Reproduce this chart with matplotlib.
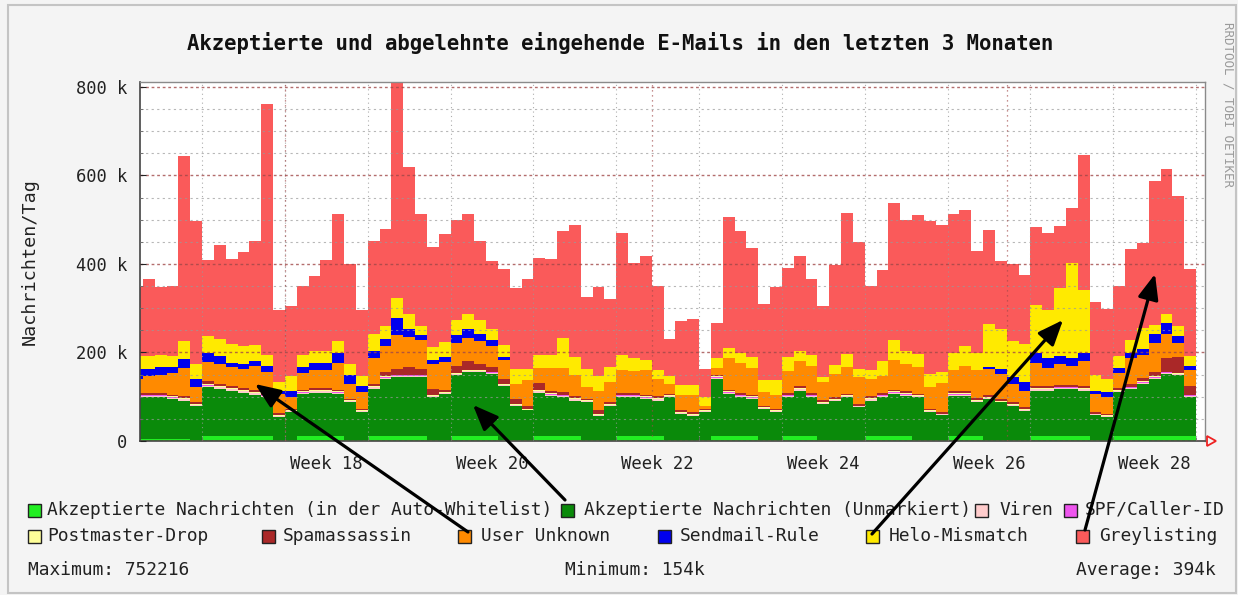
import numpy as np
import matplotlib
matplotlib.use('Agg')
import matplotlib.pyplot as plt
from matplotlib.patches import Rectangle, FancyArrowPatch, Polygon

# --- daily values in thousand messages (first entry = partial day at left edge) ---
auto_whitelist = [4, 4, 4, 4, 4, 3, 12, 12, 12, 12, 12, 12, 3, 3, 12, 12, 12, 12, 3, 3,
                  12, 12, 12, 12, 12, 3, 3, 12, 12, 12, 12, 3, 3, 3, 12, 12, 12, 12, 3, 3,
                  3, 12, 12, 12, 12, 3, 3, 3, 3, 12, 12, 12, 12, 3, 3, 12, 12, 12, 3, 3,
                  3, 3, 12, 12, 12, 12, 3, 3, 3, 12, 12, 12, 3, 3, 3, 3, 12, 12, 12, 12,
                  12, 3, 3, 12, 12, 12, 12, 12, 12, 12]
akzeptiert = [95, 95, 95, 91, 87, 77, 110, 106, 102, 97, 93, 87, 51, 62, 94, 97, 97, 94, 85, 62,
              106, 128, 132, 132, 132, 96, 103, 136, 143, 143, 139, 122, 77, 66, 97, 90, 87, 79, 85, 54,
              77, 87, 87, 83, 79, 96, 58, 54, 62, 128, 94, 87, 83, 69, 62, 87, 102, 87, 81, 88,
              96, 73, 79, 87, 94, 90, 96, 62, 55, 90, 90, 75, 92, 84, 77, 65, 102, 102, 105, 105,
              102, 55, 51, 98, 105, 117, 128, 139, 136, 87]
viren = [3, 3, 3, 3, 3, 2, 3, 3, 3, 3, 3, 3, 2, 2, 3, 3, 3, 3, 2, 2,
         3, 3, 3, 3, 3, 2, 2, 3, 3, 3, 3, 2, 2, 2, 3, 3, 3, 3, 2, 2,
         2, 3, 3, 3, 3, 2, 2, 2, 2, 3, 3, 3, 3, 2, 2, 3, 3, 3, 2, 2,
         2, 2, 3, 3, 3, 3, 2, 2, 2, 3, 3, 3, 2, 2, 2, 2, 3, 3, 3, 3,
         3, 2, 2, 3, 3, 3, 3, 3, 3, 3]
spf = [1, 1, 1, 1, 1, 0, 1, 1, 1, 1, 1, 1, 0, 0, 1, 1, 1, 1, 0, 0,
       1, 1, 1, 1, 1, 0, 0, 1, 1, 1, 1, 0, 0, 0, 1, 1, 1, 1, 0, 0,
       0, 1, 1, 1, 1, 0, 0, 0, 0, 1, 1, 1, 1, 0, 0, 1, 1, 1, 0, 0,
       0, 0, 1, 1, 1, 1, 0, 0, 0, 1, 1, 1, 0, 0, 0, 0, 1, 1, 1, 1,
       1, 0, 0, 1, 1, 1, 1, 1, 1, 1]
postmaster = [2, 2, 2, 2, 2, 2, 2, 2, 2, 2, 2, 2, 2, 2, 2, 2, 2, 2, 2, 2,
              2, 2, 2, 2, 2, 2, 2, 2, 2, 2, 2, 2, 2, 2, 2, 2, 2, 2, 2, 2,
              2, 2, 2, 2, 2, 2, 2, 2, 2, 2, 2, 2, 2, 2, 2, 2, 2, 2, 2, 2,
              2, 2, 2, 2, 2, 2, 2, 2, 2, 2, 2, 2, 2, 2, 2, 2, 2, 2, 2, 2,
              2, 2, 2, 2, 2, 2, 2, 2, 2, 2]
spamassassin = [4, 4, 4, 4, 4, 4, 8, 5, 5, 5, 5, 5, 5, 4, 4, 4, 4, 4, 4, 4,
                5, 10, 12, 18, 12, 15, 6, 15, 20, 12, 10, 12, 12, 5, 15, 5, 5, 4, 4, 8,
                4, 4, 4, 4, 4, 4, 4, 4, 3, 3, 4, 4, 4, 4, 4, 4, 4, 4, 4, 4,
                4, 4, 4, 4, 4, 4, 4, 4, 4, 4, 4, 4, 4, 4, 4, 4, 4, 4, 4, 4,
                4, 4, 4, 4, 6, 8, 10, 30, 35, 20]
user_unknown = [32, 37, 41, 49, 64, 34, 42, 44, 42, 43, 53, 46, 44, 26, 38, 42, 42, 61, 33, 37,
                59, 58, 78, 68, 67, 57, 62, 53, 52, 52, 47, 41, 33, 59, 35, 52, 55, 49, 26, 45,
                45, 52, 49, 56, 38, 22, 34, 38, 8, 15, 72, 68, 60, 30, 30, 49, 56, 60, 41, 53,
                60, 60, 38, 37, 68, 61, 60, 49, 64, 49, 57, 64, 60, 57, 41, 38, 52, 41, 46, 42,
                56, 40, 37, 34, 59, 52, 66, 54, 33, 36]
sendmail = [22, 17, 17, 13, 21, 19, 21, 20, 10, 10, 11, 13, 5, 13, 13, 16, 16, 21, 19, 15,
            15, 17, 38, 16, 11, 9, 12, 18, 19, 17, 15, 8, 0, 0, 0, 0, 0, 0, 0, 0,
            0, 0, 0, 0, 0, 0, 0, 0, 0, 0, 0, 0, 0, 0, 0, 0, 0, 0, 0, 0,
            0, 0, 0, 0, 0, 0, 0, 0, 0, 0, 0, 0, 4, 11, 15, 19, 23, 23, 19, 19,
            19, 8, 11, 11, 11, 12, 19, 26, 15, 8]
helo = [28, 29, 28, 25, 39, 34, 38, 38, 41, 41, 36, 26, 21, 34, 28, 26, 26, 27, 27, 21,
        38, 28, 45, 34, 19, 28, 33, 34, 34, 32, 23, 26, 34, 26, 30, 30, 68, 40, 41, 32,
        34, 34, 30, 23, 22, 17, 23, 23, 19, 24, 22, 22, 25, 27, 34, 32, 23, 26, 11, 19,
        30, 19, 22, 34, 45, 30, 30, 30, 25, 38, 45, 38, 98, 91, 83, 87, 109, 109, 154, 213,
        143, 34, 30, 27, 30, 49, 22, 19, 22, 23]
greylisting = [160, 174, 152, 158, 418, 323, 171, 211, 194, 212, 235, 567, 162, 160, 155, 169, 205, 287, 225, 151,
               210, 219, 490, 333, 253, 226, 244, 225, 226, 177, 154, 173, 182, 204, 219, 217, 241, 299, 162, 202,
               154, 274, 214, 235, 189, 85, 145, 150, 64, 79, 296, 275, 246, 173, 211, 201, 216, 170, 160, 226,
               318, 286, 189, 207, 309, 297, 313, 346, 332, 313, 307, 230, 212, 152, 173, 156, 176, 173, 139, 126,
               305, 166, 159, 159, 205, 192, 324, 329, 294, 197]

labels = ['Akzeptierte Nachrichten (in der Auto-Whitelist)', 'Akzeptierte Nachrichten (Unmarkiert)',
          'Viren', 'SPF/Caller-ID', 'Postmaster-Drop', 'Spamassassin', 'User Unknown',
          'Sendmail-Rule', 'Helo-Mismatch', 'Greylisting']
colors = ['#22ee22', '#0a8a0a', '#ffcccc', '#ee55ee', '#ffff99', '#aa2828', '#ff8a00',
          '#0000ee', '#ffea00', '#fa5a5a']
series = [auto_whitelist, akzeptiert, viren, spf, postmaster, spamassassin,
          user_unknown, sendmail, helo, greylisting]

week_names = ['Week 18', 'Week 20', 'Week 22', 'Week 24', 'Week 26', 'Week 28']

W, H = 1238, 595
mono = 'DejaVu Sans Mono'
plt.rcParams['font.family'] = mono

fig = plt.figure(figsize=(W / 100, H / 100), dpi=100, facecolor='#f4f4f4')


def px(x, y):
    # pixel position (from top-left) -> figure fraction
    return x / W, 1 - y / H


ax = fig.add_axes([140 / W, 1 - 441 / H, 1065 / W, 359 / H])
ax.set_facecolor('white')

# stacked daily bars, first day only partially visible
days = np.arange(len(greylisting)) - 0.76
bottom = np.zeros(len(days))
for vals, col in zip(series, colors):
    ax.bar(days, vals, width=1.0, bottom=bottom, align='edge', color=col,
           linewidth=0, antialiased=False, zorder=2)
    bottom += np.array(vals, dtype=float)

ax.set_xlim(0, 90)
ax.set_ylim(0, 811)

# y axis
ax.set_yticks([0, 200, 400, 600, 800])
ax.set_yticklabels(['0', '200 k', '400 k', '600 k', '800 k'])
ax.set_yticks(np.arange(50, 800, 50), minor=True)
ax.tick_params(axis='y', which='major', direction='in', length=4, pad=9,
               labelsize=12.3, colors='#222222')
ax.tick_params(axis='y', which='minor', direction='in', length=2, color='#666666')

# x axis: weeks, labels centred in the week
week_lines = 5.24 + 7 * np.arange(13)
week_centres = [15.74, 29.74, 43.74, 57.74, 71.74, 85.74]
ax.set_xticks(week_centres)
ax.set_xticklabels(week_names)
ax.set_xticks(week_lines, minor=True)
ax.tick_params(axis='x', which='major', length=0, pad=10, labelsize=12.4, colors='#222222')
ax.tick_params(axis='x', which='minor', direction='in', length=3, color='#666666')

ax.set_axisbelow(False)
ax.grid(which='minor', axis='y', color='#999999', linestyle=(0, (2, 3)), linewidth=0.8, alpha=0.7)
ax.grid(which='major', axis='y', color='#a04848', linestyle=(0, (2, 2)), linewidth=1.0, alpha=0.8)
ax.grid(which='minor', axis='x', color='#999999', linestyle=(0, (1, 3)), linewidth=0.8, alpha=0.8)
for m in [12.24, 43.24, 73.24]:
    ax.axvline(m, color='#a04848', linestyle=(0, (1, 3)), linewidth=0.9, alpha=0.8, zorder=3)

for side in ['left', 'bottom']:
    ax.spines[side].set_color('#444444')
    ax.spines[side].set_linewidth(1.2)
for side in ['top', 'right']:
    ax.spines[side].set_color('#8a8a8a')
    ax.spines[side].set_linewidth(1.0)

# red arrow at end of x axis
fig.add_artist(Polygon([px(1207, 436), px(1216, 441), px(1207, 446)], closed=True,
                       transform=fig.transFigure, facecolor='none', edgecolor='#ee2222', lw=1.3))

# title, axis label, watermark
fig.text(*px(620, 43), 'Akzeptierte und abgelehnte eingehende E-Mails in den letzten 3 Monaten',
         ha='center', va='center', fontsize=14.9, fontweight='bold', color='#111111')
fig.text(*px(30, 262), 'Nachrichten/Tag', ha='center', va='center', rotation=90,
         fontsize=13.2, color='#222222')
fig.text(*px(1228, 22), 'RRDTOOL / TOBI OETIKER', ha='center', va='top', rotation=270,
         fontsize=9, color='#9a9a9a')

# legend
legend_rows = [510, 510, 510, 510, 536, 536, 536, 536, 536, 536]
legend_box_x = [28, 561, 975, 1064, 28, 262, 458, 658, 866, 1076]
legend_text_x = [47, 584, 999, 1085, 47, 283, 481, 680, 889, 1099]
for name, col, y, bx, tx in zip(labels, colors, legend_rows, legend_box_x, legend_text_x):
    fig.add_artist(Rectangle(px(bx, y + 7), 13 / W, 13 / H, transform=fig.transFigure,
                             facecolor=col, edgecolor='#222222', lw=1.0))
    fig.text(*px(tx, y), name, ha='left', va='center', fontsize=12.9, color='#222222')

fig.text(*px(28, 570), 'Maximum: 752216', ha='left', va='center', fontsize=12.9, color='#222222')
fig.text(*px(565, 570), 'Minimum: 154k', ha='left', va='center', fontsize=12.9, color='#222222')
fig.text(*px(1216, 570), 'Average: 394k', ha='right', va='center', fontsize=12.9, color='#222222')

# annotation arrows from legend entries into the chart
arrows = [((468, 532), (255, 384)), ((565, 500), (473, 405)),
          ((872, 534), (1063, 320)), ((1085, 530), (1155, 274))]
for tail, head in arrows:
    fig.add_artist(FancyArrowPatch(px(*tail), px(*head), transform=fig.transFigure,
                                   arrowstyle='-|>,head_length=1.1,head_width=0.45',
                                   mutation_scale=14, lw=2.3, color='black',
                                   shrinkA=0, shrinkB=0, zorder=10))

# outer frame
fig.add_artist(Rectangle(px(8, 593), 1228 / W, 588 / H, transform=fig.transFigure,
                         facecolor='none', edgecolor='#c4c4c4', lw=1.5))

fig.savefig('out.png', dpi=100, facecolor=fig.get_facecolor())
